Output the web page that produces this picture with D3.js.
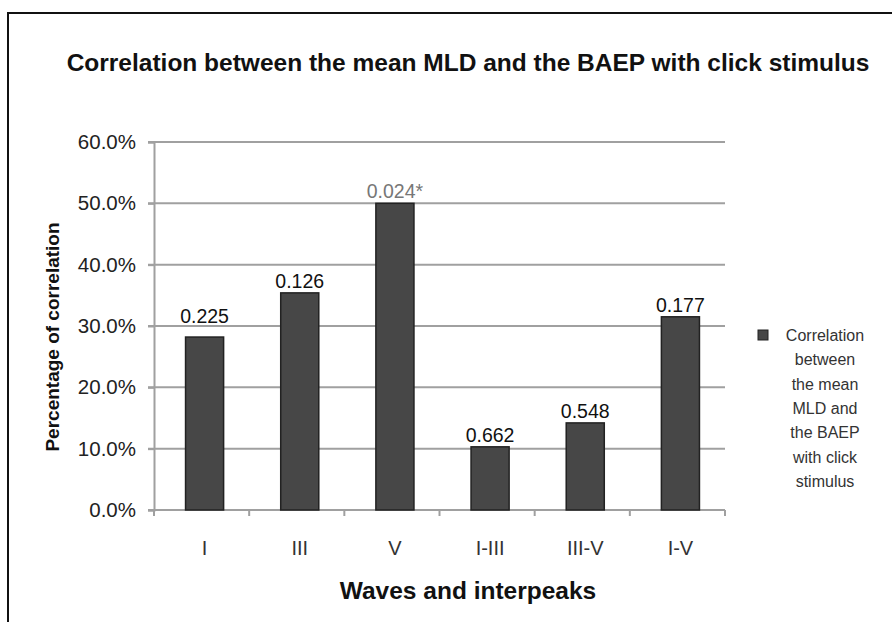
<!DOCTYPE html>
<html>
<head>
<meta charset="utf-8">
<script src="https://cdn.jsdelivr.net/npm/d3@7"></script>
<style>
  body { margin: 0; background: #fff; }
  text { font-family: "Liberation Sans", Arial, sans-serif; }
</style>
</head>
<body>
<script>
// chart data
var categories = ["I", "III", "V", "I-III", "III-V", "I-V"];
var values = [28.2, 35.4, 50.0, 10.3, 14.2, 31.5];
var pLabels = ["0.225", "0.126", "0.024*", "0.662", "0.548", "0.177"];
var yTicks = [0, 10, 20, 30, 40, 50, 60];
var legendLines = ["Correlation", "between", "the mean", "MLD and", "the BAEP", "with click", "stimulus"];

var w = 892, h = 622;
var svg = d3.select("body").append("svg")
    .attr("width", w)
    .attr("height", h);

// outer frame (right and bottom edges run off the picture)
svg.append("path")
    .attr("d", "M8,622 L8,13 L892,13")
    .attr("fill", "none")
    .attr("stroke", "#111")
    .attr("stroke-width", 2);

svg.append("text")
    .attr("x", 468).attr("y", 71)
    .attr("text-anchor", "middle")
    .attr("font-size", "24.5px")
    .attr("font-weight", "bold")
    .attr("fill", "#111")
    .text("Correlation between the mean MLD and the BAEP with click stimulus");

var plotLeft = 154, plotRight = 725, plotTop = 142, plotBottom = 510;

var x = d3.scaleBand().domain(categories).range([plotLeft + 3, plotRight + 3]).paddingInner(0.6).paddingOuter(0.3);
var y = d3.scaleLinear().domain([0, 60]).range([plotBottom, plotTop]);

// gridlines
svg.selectAll(".grid")
    .data(yTicks.filter(function(d) { return d > 0; }))
    .enter().append("line")
    .attr("x1", plotLeft - 6).attr("x2", plotRight)
    .attr("y1", function(d) { return y(d); })
    .attr("y2", function(d) { return y(d); })
    .style("stroke", "#a0a0a0")
    .style("stroke-width", 2);

// y axis
var yAxis = svg.append("g")
    .attr("transform", "translate(" + plotLeft + ",0)")
    .call(d3.axisLeft(y).tickValues(yTicks).tickSize(6).tickPadding(12)
        .tickFormat(function(d) { return d.toFixed(1) + "%"; }));
yAxis.select(".domain").attr("stroke", "#a0a0a0").attr("stroke-width", 2);
yAxis.selectAll(".tick line").attr("stroke", "#a0a0a0").attr("stroke-width", 2);
yAxis.selectAll(".tick text")
    .attr("font-size", "20.5px")
    .attr("fill", "#222")
    .attr("font-family", "Liberation Sans, Arial, sans-serif");

// x axis, ticks between categories
var xBoundaries = d3.range(categories.length + 1).map(function(i) {
    return plotLeft + i * (plotRight - plotLeft) / categories.length;
});
svg.append("line")
    .attr("x1", plotLeft - 6).attr("x2", plotRight)
    .attr("y1", plotBottom).attr("y2", plotBottom)
    .style("stroke", "#a0a0a0").style("stroke-width", 2);
svg.selectAll(".xtick")
    .data(xBoundaries)
    .enter().append("line")
    .attr("x1", function(d) { return d; }).attr("x2", function(d) { return d; })
    .attr("y1", plotBottom).attr("y2", plotBottom + 6)
    .style("stroke", "#a0a0a0").style("stroke-width", 2);

svg.selectAll(".xlab")
    .data(categories)
    .enter().append("text")
    .attr("x", function(d) { return x(d) + x.bandwidth() / 2; })
    .attr("y", plotBottom + 45)
    .attr("text-anchor", "middle")
    .attr("font-size", "20px")
    .attr("fill", "#333")
    .text(function(d) { return d; });

// bars
svg.selectAll(".bar")
    .data(values)
    .enter().append("rect")
    .attr("x", function(d, i) { return x(categories[i]); })
    .attr("y", function(d) { return y(d); })
    .attr("width", x.bandwidth())
    .attr("height", function(d) { return plotBottom - y(d); })
    .style("fill", "#474747")
    .style("stroke", "#222")
    .style("stroke-width", 1.5);

// value labels (the first one sits higher in the original, clear of the 30% line)
svg.selectAll(".vlab")
    .data(values)
    .enter().append("text")
    .attr("x", function(d, i) { return x(categories[i]) + x.bandwidth() / 2; })
    .attr("y", function(d, i) { return y(d) - (i === 0 ? 14 : 5); })
    .attr("text-anchor", "middle")
    .attr("font-size", "19.5px")
    .attr("fill", function(d, i) { return pLabels[i].indexOf("*") >= 0 ? "#777" : "#111"; })
    .text(function(d, i) { return pLabels[i]; });

// axis titles
svg.append("text")
    .attr("transform", "translate(59,337) rotate(-90)")
    .attr("text-anchor", "middle")
    .attr("font-size", "19px")
    .attr("font-weight", "bold")
    .attr("fill", "#111")
    .text("Percentage of correlation");

svg.append("text")
    .attr("x", 468).attr("y", 599)
    .attr("text-anchor", "middle")
    .attr("font-size", "24.5px")
    .attr("font-weight", "bold")
    .attr("fill", "#111")
    .text("Waves and interpeaks");

// legend
svg.append("rect")
    .attr("x", 758).attr("y", 330)
    .attr("width", 10).attr("height", 10)
    .style("fill", "#474747").style("stroke", "#222");
svg.selectAll(".leg")
    .data(legendLines)
    .enter().append("text")
    .attr("x", 825)
    .attr("y", function(d, i) { return 341 + i * 24.3; })
    .attr("text-anchor", "middle")
    .attr("font-size", "16px")
    .attr("fill", "#333")
    .text(function(d) { return d; });
</script>
</body>
</html>
